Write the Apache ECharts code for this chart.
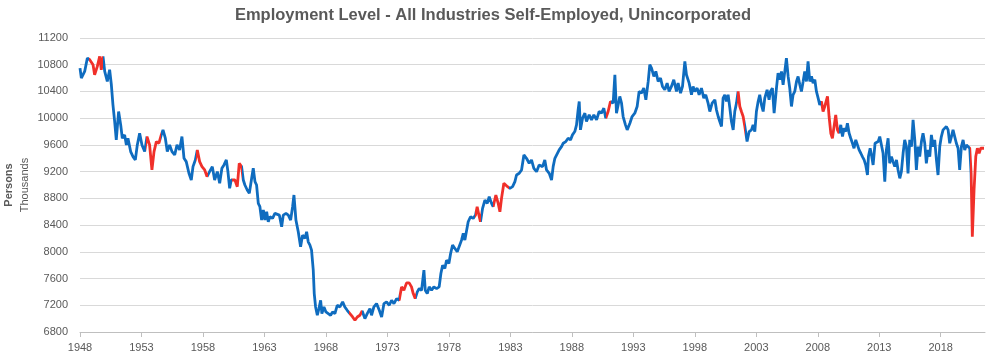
<!DOCTYPE html>
<html>
<head>
<meta charset="utf-8">
<title>Employment Level - All Industries Self-Employed, Unincorporated</title>
<script src="https://cdn.jsdelivr.net/npm/echarts@6/dist/echarts.min.js"></script>
<style>
  html, body { margin: 0; padding: 0; background: #fff; }
  #chart { width: 986px; height: 355px; }
</style>
</head>
<body>
<div id="chart"></div>
<script>
// decimal year of each reading, and the level in thousands of persons
const years = [
  1948.00, 1948.11, 1948.24, 1948.38, 1948.60, 1948.79, 1949.06, 1949.19, 1949.41, 1949.60,
  1949.73, 1949.87, 1950.01, 1950.22, 1950.41, 1950.55, 1950.68, 1950.82, 1950.95, 1951.14,
  1951.31, 1951.44, 1951.63, 1951.77, 1951.90, 1952.12, 1952.31, 1952.50, 1952.66, 1952.85,
  1953.04, 1953.26, 1953.45, 1953.66, 1953.85, 1954.02, 1954.21, 1954.42, 1954.61, 1954.75,
  1954.94, 1955.10, 1955.29, 1955.48, 1955.70, 1955.89, 1956.10, 1956.29, 1956.46, 1956.64,
  1956.86, 1957.05, 1957.19, 1957.38, 1957.54, 1957.73, 1957.92, 1958.14, 1958.33, 1958.54,
  1958.76, 1958.95, 1959.17, 1959.36, 1959.54, 1959.71, 1959.90, 1960.03, 1960.17, 1960.30,
  1960.60, 1960.79, 1960.95, 1961.14, 1961.28, 1961.41, 1961.60, 1961.77, 1961.96, 1962.09,
  1962.23, 1962.36, 1962.50, 1962.63, 1962.77, 1962.91, 1963.04, 1963.18, 1963.31, 1963.45,
  1963.66, 1963.85, 1963.99, 1964.21, 1964.40, 1964.53, 1964.75, 1964.94, 1965.13, 1965.29,
  1965.40, 1965.56, 1965.75, 1965.94, 1966.10, 1966.29, 1966.43, 1966.56, 1966.70, 1966.83,
  1966.97, 1967.05, 1967.16, 1967.30, 1967.43, 1967.57, 1967.67, 1967.84, 1968.00, 1968.19,
  1968.38, 1968.54, 1968.73, 1968.92, 1969.14, 1969.36, 1969.54, 1969.73, 1969.95, 1970.17,
  1970.36, 1970.55, 1970.76, 1970.95, 1971.17, 1971.36, 1971.58, 1971.71, 1971.90, 1972.12,
  1972.34, 1972.53, 1972.72, 1972.93, 1973.15, 1973.34, 1973.53, 1973.75, 1973.96, 1974.15,
  1974.34, 1974.56, 1974.77, 1974.96, 1975.10, 1975.26, 1975.43, 1975.59, 1975.78, 1975.97,
  1976.08, 1976.24, 1976.40, 1976.59, 1976.78, 1977.00, 1977.21, 1977.35, 1977.49, 1977.67,
  1977.81, 1978.00, 1978.14, 1978.30, 1978.49, 1978.68, 1978.84, 1979.03, 1979.17, 1979.30,
  1979.44, 1979.57, 1979.76, 1979.98, 1980.17, 1980.30, 1980.47, 1980.57, 1980.74, 1980.93,
  1981.12, 1981.28, 1981.47, 1981.60, 1981.82, 1982.01, 1982.15, 1982.28, 1982.47, 1982.63,
  1982.77, 1982.96, 1983.18, 1983.37, 1983.50, 1983.72, 1983.91, 1984.10, 1984.31, 1984.53,
  1984.72, 1984.91, 1985.13, 1985.34, 1985.62, 1985.80, 1985.94, 1986.16, 1986.35, 1986.48,
  1986.62, 1986.75, 1986.97, 1987.16, 1987.30, 1987.51, 1987.70, 1987.89, 1988.05, 1988.24,
  1988.38, 1988.51, 1988.60, 1988.70, 1988.87, 1989.06, 1989.19, 1989.41, 1989.60, 1989.79,
  1990.01, 1990.22, 1990.41, 1990.60, 1990.76, 1990.95, 1991.14, 1991.36, 1991.50, 1991.63,
  1991.77, 1991.90, 1992.04, 1992.17, 1992.36, 1992.50, 1992.72, 1992.90, 1993.12, 1993.31,
  1993.47, 1993.66, 1993.85, 1994.02, 1994.21, 1994.34, 1994.48, 1994.67, 1994.83, 1995.02,
  1995.21, 1995.37, 1995.56, 1995.75, 1995.91, 1996.10, 1996.29, 1996.51, 1996.64, 1996.84,
  1997.00, 1997.19, 1997.32, 1997.54, 1997.73, 1997.86, 1998.00, 1998.19, 1998.35, 1998.54,
  1998.73, 1998.89, 1999.08, 1999.22, 1999.41, 1999.63, 1999.76, 1999.90, 2000.03, 2000.17,
  2000.30, 2000.44, 2000.57, 2000.71, 2000.85, 2000.98, 2001.12, 2001.25, 2001.39, 2001.52,
  2001.66, 2001.79, 2001.93, 2002.07, 2002.25, 2002.42, 2002.61, 2002.74, 2002.88, 2003.01,
  2003.15, 2003.28, 2003.42, 2003.56, 2003.69, 2003.88, 2004.04, 2004.15, 2004.31, 2004.45,
  2004.64, 2004.77, 2004.91, 2005.05, 2005.18, 2005.32, 2005.45, 2005.59, 2005.72, 2005.86,
  2005.99, 2006.13, 2006.27, 2006.40, 2006.54, 2006.67, 2006.81, 2006.94, 2007.08, 2007.21,
  2007.35, 2007.49, 2007.62, 2007.76, 2007.89, 2008.03, 2008.16, 2008.30, 2008.43, 2008.57,
  2008.79, 2008.92, 2009.06, 2009.19, 2009.33, 2009.46, 2009.60, 2009.73, 2009.87, 2010.01,
  2010.14, 2010.28, 2010.41, 2010.55, 2010.68, 2010.82, 2010.95, 2011.09, 2011.23, 2011.36,
  2011.50, 2011.63, 2011.77, 2011.90, 2012.04, 2012.12, 2012.26, 2012.39, 2012.50, 2012.66,
  2012.77, 2012.91, 2013.04, 2013.18, 2013.31, 2013.45, 2013.58, 2013.72, 2013.85, 2013.99,
  2014.12, 2014.26, 2014.40, 2014.53, 2014.67, 2014.80, 2014.94, 2015.07, 2015.21, 2015.34,
  2015.48, 2015.62, 2015.75, 2015.89, 2016.02, 2016.16, 2016.29, 2016.43, 2016.56, 2016.70,
  2016.83, 2016.97, 2017.11, 2017.24, 2017.38, 2017.51, 2017.65, 2017.78, 2017.92, 2018.05,
  2018.19, 2018.33, 2018.46, 2018.60, 2018.73, 2018.87, 2019.00, 2019.14, 2019.27, 2019.41,
  2019.54, 2019.68, 2019.82, 2019.95, 2020.09, 2020.22, 2020.36, 2020.47, 2020.57, 2020.71,
  2020.85, 2020.98, 2021.12, 2021.25, 2021.39, 2021.52
]
const employed = [
  10750, 10600, 10625, 10700, 10900, 10875, 10800, 10650, 10775, 10925,
  10725, 10925, 10700, 10550, 10725, 10500, 10200, 9950, 9675, 10100,
  9900, 9700, 9750, 9600, 9700, 9500, 9425, 9375, 9600, 9775,
  9600, 9500, 9725, 9600, 9225, 9500, 9650, 9625, 9750, 9825,
  9700, 9500, 9600, 9500, 9450, 9600, 9525, 9725, 9400, 9350,
  9175, 9075, 9275, 9375, 9525, 9350, 9275, 9225, 9125, 9200,
  9275, 9075, 9200, 9025, 9250, 9300, 9375, 9200, 8950, 9075,
  9075, 8975, 9325, 9275, 9075, 9000, 8925, 8875, 9100, 9250,
  9050, 9000, 8725, 8675, 8475, 8625, 8475, 8600, 8450, 8525,
  8500, 8575, 8600, 8550, 8375, 8550, 8575, 8550, 8475, 8675,
  8850, 8475, 8300, 8075, 8250, 8200, 8300, 8150, 8100, 8025,
  7725, 7375, 7175, 7050, 7150, 7275, 7075, 7175, 7100, 7075,
  7050, 7100, 7075, 7200, 7175, 7250, 7175, 7125, 7075, 7025,
  6975, 7025, 7050, 7115, 7000, 7075, 7150, 7050, 7175, 7225,
  7125, 7025, 7225, 7250, 7200, 7275, 7225, 7300, 7275, 7475,
  7425, 7535, 7535, 7475, 7375, 7300, 7400, 7450, 7425, 7725,
  7425, 7375, 7475, 7425, 7475, 7450, 7475, 7675, 7800, 7750,
  7875, 7825, 7975, 8100, 8050, 8000, 7975, 8175, 8275, 8175,
  8150, 8450, 8525, 8500, 8550, 8675, 8525, 8450, 8650, 8775,
  8725, 8825, 8725, 8675, 8850, 8725, 8600, 8800, 9025, 9050,
  8975, 8950, 8975, 9050, 9150, 9175, 9225, 9450, 9400, 9325,
  9375, 9250, 9200, 9300, 9275, 9375, 9225, 9175, 9075, 9275,
  9400, 9425, 9525, 9575, 9625, 9650, 9700, 9675, 9750, 9800,
  9900, 10125, 10250, 9825, 10000, 10075, 9950, 10050, 9975, 10050,
  9975, 10100, 10075, 10150, 10000, 10100, 10250, 10225, 10650, 10075,
  10200, 10325, 10225, 10025, 9900, 9825, 9925, 10025, 10075, 10175,
  10400, 10375, 10450, 10275, 10550, 10800, 10750, 10625, 10700, 10550,
  10600, 10475, 10425, 10525, 10400, 10475, 10575, 10400, 10525, 10375,
  10475, 10850, 10650, 10525, 10350, 10475, 10400, 10450, 10350, 10450,
  10300, 10350, 10225, 10100, 10225, 10275, 10125, 10025, 9950, 9875,
  10300, 10350, 10250, 10350, 10150, 9950, 9825, 10100, 10225, 10400,
  10175, 10100, 10025, 9875, 9650, 9800, 9825, 9900, 9800, 10100,
  10250, 10350, 10200, 10100, 10300, 10425, 10275, 10400, 10450, 10075,
  10450, 10675, 10575, 10700, 10500, 10700, 10900, 10625, 10450, 10175,
  10350, 10400, 10550, 10625, 10500, 10400, 10550, 10700, 10550, 10850,
  10550, 10625, 10525, 10575, 10400, 10300, 10200, 10250, 10100, 10175,
  10325, 10025, 9775, 9700, 9725, 10050, 9825, 9775, 9900, 9725,
  9850, 9800, 9925, 9775, 9700, 9625, 9550, 9675, 9675, 9525,
  9475, 9425, 9375, 9300, 9150, 9425, 9550, 9425, 9300, 9625,
  9600, 9650, 9725, 9725, 9475, 9050, 9525, 9700, 9325, 9425,
  9350, 9275, 9375, 9225, 9100, 9200, 9475, 9675, 9575, 9175,
  9675, 9575, 9975, 9675, 9225, 9575, 9425, 9650, 9775, 9625,
  9325, 9525, 9425, 9750, 9575, 9675, 9375, 9150, 9575, 9725,
  9825, 9800, 9875, 9825, 9625, 9725, 9825, 9850, 9625, 9550,
  9225, 9575, 9675, 9525, 9600, 9575, 9550, 9175, 8225, 8925,
  9425, 9550, 9475, 9550, 9525, 9550
]
// stretches drawn in red (start year, end year)
const recessions = [
  [1948.75, 1949.85], [1953.40, 1954.55], [1957.45, 1958.40], [1960.35, 1961.20],
  [1969.90, 1970.90], [1973.95, 1975.30], [1980.15, 1980.60], [1981.55, 1982.85],
  [1990.75, 1991.20], [2001.40, 2002.10], [2008.30, 2009.75], [2020.40, 2021.60]
]
const yTicks = { min: 6800, max: 11200, step: 400 }
const startYear = 1948
const endYear = 2021.6

const BLUE = '#0f6cbf'
const RED = '#f0302a'
const GREY = '#595959'

// x is counted in years since 1948 so the 5-year ticks start at the axis min
const points = years.map((y, i) => [y - startYear, employed[i]])

const chart = echarts.init(document.getElementById('chart'))

const option = {
  animation: false,
  title: {
    text: 'Employment Level - All Industries Self-Employed, Unincorporated',
    left: 'center',
    top: 2,
    textStyle: {
      fontFamily: 'Liberation Sans',
      fontSize: 16.5,
      fontWeight: 'bold',
      color: GREY
    }
  },
  grid: {
    left: 80,
    right: 1,
    top: 38,
    bottom: 23,
    outerBoundsMode: 'none'
  },
  xAxis: {
    type: 'value',
    min: 0,
    max: endYear - startYear,
    interval: 5,
    axisLine: { lineStyle: { color: '#bfbfbf', width: 1 } },
    axisTick: { show: true, length: 5, lineStyle: { color: '#bfbfbf' } },
    splitLine: { show: false },
    axisLabel: {
      color: GREY,
      fontFamily: 'Liberation Sans',
      fontSize: 11,
      margin: 10,
      showMaxLabel: false,
      formatter: v => String(startYear + v)
    }
  },
  yAxis: {
    type: 'value',
    min: yTicks.min,
    max: yTicks.max,
    interval: yTicks.step,
    axisLine: { show: false },
    axisTick: { show: false },
    splitLine: { lineStyle: { color: '#d9d9d9', width: 1 } },
    axisLabel: {
      color: GREY,
      fontFamily: 'Liberation Sans',
      fontSize: 11,
      margin: 12,
      formatter: v => String(v)
    },
    name: '{a|Persons}\n{b|Thousands}',
    nameLocation: 'middle',
    nameRotate: 90,
    nameGap: 47,
    nameMoveOverlap: false,
    nameTextStyle: {
      fontFamily: 'Liberation Sans',
      color: GREY,
      lineHeight: 16,
      rich: {
        a: { fontSize: 11, fontWeight: 'bold', color: GREY, lineHeight: 16 },
        b: { fontSize: 11, color: GREY, lineHeight: 16 }
      }
    }
  },
  visualMap: {
    type: 'piecewise',
    show: false,
    dimension: 0,
    seriesIndex: 0,
    pieces: recessions.map(([a, b]) => ({ gte: a - startYear, lte: b - startYear, color: RED })),
    outOfRange: { color: BLUE }
  },
  series: [
    {
      name: 'Self-Employed, Unincorporated',
      type: 'line',
      data: points,
      showSymbol: false,
      symbol: 'none',
      lineStyle: { width: 2.8 },
      z: 3
    }
  ]
}

chart.setOption(option)
</script>
</body>
</html>
